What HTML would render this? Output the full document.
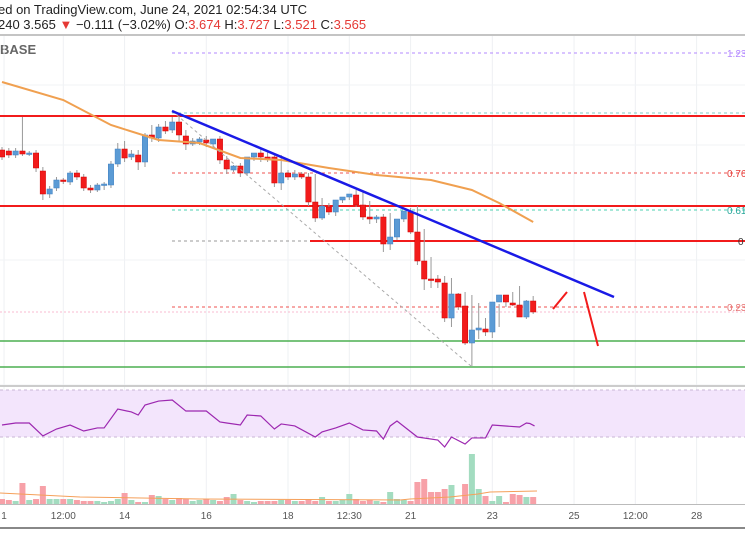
<!DOCTYPE html>
<html><head><meta charset="utf-8">
<style>
html,body{margin:0;padding:0;background:#fff;width:745px;height:558px;overflow:hidden;font-family:"Liberation Sans",sans-serif}
svg{display:block}
</style></head>
<body>
<svg id="chart" width="745" height="558" viewBox="0 0 745 558">
<text x="-2" y="14" font-size="13" fill="#222">ed on TradingView.com, June 24, 2021 02:54:34 UTC</text>
<text x="-2" y="29" font-size="13" fill="#222">240 3.565 <tspan fill="#e53935">▼</tspan> −0.111 (−3.02%) O:<tspan fill="#e53935">3.674</tspan> H:<tspan fill="#e53935">3.727</tspan> L:<tspan fill="#e53935">3.521</tspan> C:<tspan fill="#e53935">3.565</tspan></text>
<line x1="0" y1="35" x2="745" y2="35" stroke="#888" stroke-width="1"/>
<text x="0" y="54" font-size="13" font-weight="bold" fill="#666">BASE</text>
<g id="grid"></g>
<g id="levels"></g>
<g id="candles"></g>
<g id="overlay"></g>
<g id="rsi"></g>
<g id="volume"></g>
<g id="xaxis"></g>
</svg>
<script>
const openP=[4.50,4.49,4.45,4.49,4.46,4.47,4.29,4.06,4.12,4.20,4.18,4.27,4.23,4.12,4.10,4.15,4.15,4.36,4.51,4.43,4.45,4.38,4.65,4.62,4.73,4.70,4.78,4.64,4.56,4.58,4.60,4.56,4.61,4.40,4.30,4.34,4.27,4.43,4.47,4.43,4.43,4.17,4.27,4.23,4.26,4.23,3.98,3.82,3.93,3.88,4.00,4.03,4.05,3.95,3.83,3.81,3.83,3.56,3.63,3.81,3.88,3.68,3.39,3.21,3.21,3.17,2.82,3.06,2.94,2.57,2.70,2.71,2.68,2.98,3.05,2.97,2.95,2.83,2.99];
const closeP=[4.43,4.45,4.49,4.46,4.47,4.32,4.06,4.11,4.20,4.19,4.27,4.23,4.12,4.10,4.15,4.16,4.36,4.51,4.42,4.46,4.38,4.65,4.62,4.73,4.69,4.78,4.65,4.56,4.59,4.61,4.57,4.61,4.40,4.31,4.34,4.27,4.43,4.47,4.43,4.41,4.17,4.27,4.23,4.26,4.23,3.98,3.82,3.94,3.88,4.00,4.03,4.06,3.95,3.83,3.81,3.83,3.56,3.63,3.81,3.89,3.68,3.39,3.21,3.20,3.18,2.82,3.06,2.93,2.57,2.70,2.72,2.68,2.98,3.05,2.98,2.95,2.83,2.99,2.88];
const highP=[4.53,4.52,4.52,4.83,4.49,4.50,4.33,4.14,4.23,4.22,4.29,4.30,4.26,4.15,4.17,4.18,4.39,4.57,4.59,4.50,4.50,4.67,4.75,4.76,4.79,4.83,4.84,4.70,4.62,4.63,4.64,4.61,4.64,4.44,4.35,4.37,4.30,4.46,4.51,4.48,4.46,4.45,4.30,4.30,4.28,4.27,4.26,4.02,3.97,3.95,4.03,4.06,4.10,4.08,3.99,3.85,3.86,3.87,3.66,3.83,3.92,3.94,3.71,3.43,3.25,3.24,3.22,3.07,3.08,3.05,2.97,2.82,2.78,2.73,3.04,3.08,3.14,3.00,3.04];
const lowP=[4.40,4.42,4.42,4.44,4.44,4.28,4.00,4.02,4.09,4.16,4.15,4.20,4.09,4.07,4.08,4.10,4.12,4.33,4.38,4.40,4.30,4.33,4.58,4.58,4.66,4.67,4.59,4.50,4.54,4.55,4.53,4.52,4.36,4.26,4.28,4.23,4.24,4.39,4.38,4.38,4.13,4.10,4.20,4.20,4.21,3.94,3.78,3.80,3.85,3.84,3.97,4.00,3.93,3.80,3.76,3.77,3.48,3.50,3.60,3.78,3.66,3.35,3.10,3.12,3.12,2.78,2.73,2.90,2.55,2.34,2.61,2.64,2.62,2.96,2.93,2.94,2.90,2.81,2.86];
const volume=[5,4,3,21,4,5,18,5,5,5,5,4,3,3,3,2,3,5,11,4,2,2,9,8,5,4,6,5,3,4,5,4,3,7,10,4,3,2,3,3,3,4,4,3,3,5,3,7,3,3,4,10,5,3,4,3,2,12,5,4,3,22,25,12,12,15,19,5,20,50,15,8,3,8,2,10,9,7,7];
const maIdx=[0,9,16,23,29,35,41,48,55,63,69,73,78];
const maP=[5.18,5.00,4.75,4.60,4.57,4.42,4.40,4.32,4.25,4.20,4.10,3.97,3.78];
const rsiIdx=[0,2,4,6,8,10,12,14,15,17,19,20,21,23,25,27,30,32,33,35,36,38,40,41,43,46,47,49,51,53,55,56,57,58,61,64,65,66,68,69,71,72,76,77,77.5,78.2];
const rsiV=[40.2,41.9,41.9,30.9,36.8,40.2,35.1,37.7,37.7,53.8,51.3,48.7,57.2,60.6,61.5,52.1,52.1,42.8,41.9,40.2,48.7,47.9,36.8,41.1,39.4,30,34.3,37.7,41.9,36,35.1,28.3,39.4,43.6,30,27.4,21.5,30,24,29.2,29.2,40.2,38.5,41.9,41.5,39.4];
const tickLabels=["1","12:00","14","16","18","12:30","21","23","25","12:00","28"];
const tickIdx=[0.3,9,18,30,42,51,60,72,84,93,102];

const NS="http://www.w3.org/2000/svg";
function mk(tag,attrs,parent){const e=document.createElementNS(NS,tag);for(const k in attrs)e.setAttribute(k,attrs[k]);parent.appendChild(e);return e;}
const step=6.81;
function xS(i){return 2+i*step;}
function yS(p){return 600-p*100;}
function rsiY(v){return 390+(70-v)*47/40;}
function volY(v){return 504-v;}

const grid=document.getElementById('grid');
tickIdx.forEach((t,i)=>{const l=mk('line',{x1:xS(t),x2:xS(t),y1:36,y2:504,stroke:'#eef0f3','stroke-width':1},grid);

});
[85,145,260,385].forEach(y=>{const l=mk('line',{x1:0,x2:745,y1:y,y2:y,stroke:'#f1f3f6'},grid);

});

const lv=document.getElementById('levels');
function hl(y,x1,col,w,dash,name){const l=mk('line',{x1:x1,x2:745,y1:y,y2:y,stroke:col,'stroke-width':w},lv);if(dash)l.setAttribute('stroke-dasharray',dash);

}
hl(53,172,'#b388ff',1,'3,3','fib-1236');
hl(113,172,'#80cbc4',1,'3,3','fib-1');
hl(173,172,'#ef5350',1,'3,3','fib-0786');
hl(210,172,'#4dd0b0',1,'3,3','fib-0618');
hl(241,172,'#999',1,'3,3','fib-0');
hl(307,172,'#ef5350',1,'3,3','fib-0236');
hl(312,0,'#f8bbd0',1,'2,2','price-line');
hl(116,0,'#f21b1b',2,null,'resistance-1');
hl(206,0,'#f21b1b',2,null,'resistance-2');
hl(241,310,'#f21b1b',2,null,'resistance-3');
hl(341,0,'#4caf50',1.5,null,'support-1');
hl(367,0,'#4caf50',1.5,null,'support-2');
[['1.23',727,57,'#b388ff'],['0.76',727,177,'#e53935'],['0.61',727,214,'#26a69a'],['0',738,245,'#333'],['0.23',727,311,'#e57373']].forEach(a=>{const t=mk('text',{x:a[1],y:a[2],'font-size':10,fill:a[3]},lv);t.textContent=a[0];

});

const cg=document.getElementById('candles');
openP.forEach((o,i)=>{const c=closeP[i];const up=c>=o;const col=up?'#5b9bd5':'#f21b1b';const x=xS(i);
const w=mk('line',{x1:x,x2:x,y1:yS(highP[i]),y2:yS(lowP[i]),stroke:'#999','stroke-width':1},cg);


const top=yS(Math.max(o,c)),bot=yS(Math.min(o,c));
const r=mk('rect',{x:x-2.7,y:top,width:5.4,height:Math.max(1.5,bot-top),fill:col,stroke:up?'#3f7fc0':'#d10000','stroke-width':0.5},cg);

});

const ov=document.getElementById('overlay');
let d='';maIdx.forEach((t,i)=>{d+=(i?'L':'M')+xS(t)+','+yS(maP[i]);});
const ma=mk('path',{d:d,fill:'none',stroke:'#f0a050','stroke-width':2},ov);


const dg=mk('line',{x1:172,y1:111,x2:471,y2:366,stroke:'#aaa','stroke-dasharray':'3,3'},ov);


const tl=mk('line',{x1:172,y1:111,x2:614,y2:297,stroke:'#1a1ae6','stroke-width':2.5},ov);


const a1=mk('path',{d:'M553,309 L567,292',stroke:'#f21b1b','stroke-width':2,fill:'none'},ov);


const a2=mk('path',{d:'M584,292 L598,346',stroke:'#f21b1b','stroke-width':2,fill:'none'},ov);



const rg=document.getElementById('rsi');
const sep=mk('line',{x1:0,x2:745,y1:386,y2:386,stroke:'#ccc','stroke-width':2},rg);


const band=mk('rect',{x:0,y:rsiY(70),width:745,height:rsiY(30)-rsiY(70),fill:'#f3e5fc'},rg);


[70,30].forEach(v=>{const l=mk('line',{x1:0,x2:745,y1:rsiY(v),y2:rsiY(v),stroke:'#c9b6d6','stroke-dasharray':'3,3'},rg);

});
let rd='';rsiIdx.forEach((t,i)=>{rd+=(i?'L':'M')+xS(t)+','+rsiY(rsiV[i]);});
const rl=mk('path',{d:rd,fill:'none',stroke:'#9c27b0','stroke-width':1.2},rg);



const vg=document.getElementById('volume');
volume.forEach((v,i)=>{const up=closeP[i]>=openP[i];
const b=mk('rect',{x:xS(i)-3,y:volY(v),width:6,height:v,fill:up?'#a3dcc0':'#f7a1a8'},vg);

});
const vma=mk('path',{d:'M0,493 L40,495 L80,497 L200,499 L400,500 L410,499 L450,497 L478,494 L490,492 L537,491',fill:'none',stroke:'#f5a05a','stroke-width':1},vg);



const xa=document.getElementById('xaxis');
const al=mk('line',{x1:0,x2:745,y1:504.5,y2:504.5,stroke:'#bbb','stroke-width':1},xa);


tickLabels.forEach((s,i)=>{const t=mk('text',{x:xS(tickIdx[i]),y:519,'font-size':10,fill:'#555','text-anchor':'middle'},xa);t.textContent=s;

});
const bl=mk('line',{x1:0,x2:745,y1:528,y2:528,stroke:'#888','stroke-width':2},xa);


</script>
</body></html>
